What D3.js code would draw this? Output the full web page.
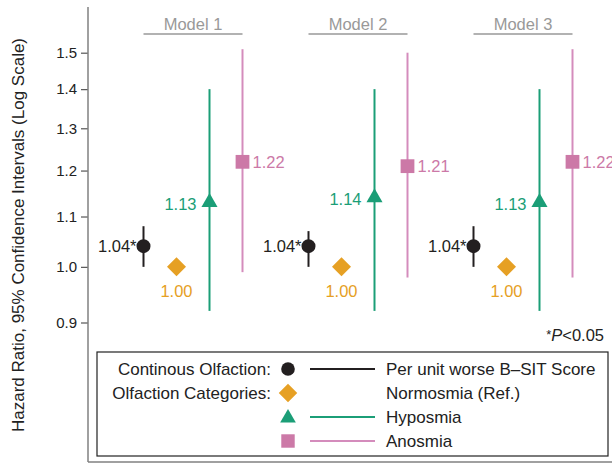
<!DOCTYPE html>
<html>
<head>
<meta charset="utf-8">
<script src="https://cdn.jsdelivr.net/npm/d3@7"></script>
<style>
  body { margin: 0; background: #fff; }
  text { font-family: "Liberation Sans", Arial, Helvetica, sans-serif; }
</style>
</head>
<body>
<script>
var width = 612,
    height = 463;

// data
var models = ["Model 1", "Model 2", "Model 3"];
var seriesNames = ["Per unit worse B\u2013SIT Score", "Normosmia (Ref.)", "Hyposmia", "Anosmia"];
var contHR  = [1.04, 1.04, 1.04], contLo = [1.00, 1.00, 1.00], contHi = [1.08, 1.07, 1.08];
var normHR  = [1.00, 1.00, 1.00];
var hypoHR  = [1.13, 1.14, 1.13], hypoLo = [0.92, 0.92, 0.92], hypoHi = [1.40, 1.40, 1.40];
var anosHR  = [1.22, 1.21, 1.22], anosLo = [0.99, 0.98, 0.98], anosHi = [1.51, 1.50, 1.51];
var yTicks = [0.9, 1.0, 1.1, 1.2, 1.3, 1.4, 1.5];

var colors = ["#231f20", "#e6a024", "#1b9e77", "#cc79a7"];
var lineColors = ["#231f20", "#e6a024", "#1b9e77", "#d48cbc"];

var series = [
  {name: seriesNames[0], hr: contHR, lo: contLo, hi: contHi, sym: d3.symbolCircle, size: 154, rot: 0, star: true},
  {name: seriesNames[1], hr: normHR, lo: null, hi: null, sym: d3.symbolSquare, size: 180, rot: 45},
  {name: seriesNames[2], hr: hypoHR, lo: hypoLo, hi: hypoHi, sym: d3.symbolTriangle, size: 112, rot: 0},
  {name: seriesNames[3], hr: anosHR, lo: anosLo, hi: anosHi, sym: d3.symbolSquare, size: 190, rot: 0}
];

var x = d3.scalePoint().domain(models).range([193, 523]);
var xs = d3.scalePoint().domain(d3.range(4)).range([-49.5, 49.5]);
var y = d3.scaleLog().domain([0.9, 1.5]).range([322.5, 52.7]);

var svg = d3.select("body").append("svg")
    .attr("width", width)
    .attr("height", height);

// axis
var axis = svg.append("g")
    .attr("transform", "translate(88,0)")
    .call(d3.axisLeft(y).tickValues(yTicks).tickFormat(d3.format(".1f")).tickSize(7).tickPadding(4));
axis.select(".domain").remove();
axis.selectAll(".tick line").attr("stroke", "#555").attr("stroke-width", 1.2);
axis.selectAll(".tick text").attr("fill", "#222").style("font-size", "15px")
    .style("font-family", "Liberation Sans, Arial, sans-serif");

svg.append("line").attr("x1", 88).attr("x2", 88).attr("y1", 7).attr("y2", 462)
    .attr("stroke", "#808080").attr("stroke-width", 1.5);
svg.append("line").attr("x1", 88).attr("x2", 612).attr("y1", 462).attr("y2", 462)
    .attr("stroke", "#808080").attr("stroke-width", 1.5);

svg.append("text")
    .attr("transform", "translate(23.5,235) rotate(-90)")
    .attr("text-anchor", "middle")
    .attr("fill", "#222")
    .style("font-size", "17px")
    .text("Hazard Ratio, 95% Confidence Intervals (Log Scale)");

// model headers
var hdr = svg.selectAll(".hdr").data(models).enter().append("g").attr("class", "hdr");
hdr.append("text")
    .attr("x", function(d) { return x(d); })
    .attr("y", 30)
    .attr("text-anchor", "middle")
    .attr("fill", "#999")
    .style("font-size", "16.5px")
    .text(function(d) { return d; });
hdr.append("line")
    .attr("x1", function(d) { return x(d) + xs(0); })
    .attr("x2", function(d) { return x(d) + xs(3); })
    .attr("y1", 34).attr("y2", 34)
    .attr("stroke", "#999").attr("stroke-width", 1.5);

// points
var pts = [];
series.forEach(function(s, si) {
  models.forEach(function(m, mi) {
    pts.push({s: s, si: si, m: m, hr: s.hr[mi],
              lo: s.lo ? s.lo[mi] : null, hi: s.hi ? s.hi[mi] : null});
  });
});

svg.selectAll(".ci").data(pts.filter(function(d) { return d.lo != null; }))
  .enter().append("line")
    .attr("x1", function(d) { return x(d.m) + xs(d.si); })
    .attr("x2", function(d) { return x(d.m) + xs(d.si); })
    .attr("y1", function(d) { return y(d.lo); })
    .attr("y2", function(d) { return y(d.hi); })
    .attr("stroke", function(d) { return lineColors[d.si]; })
    .attr("stroke-width", 2);

svg.selectAll(".pt").data(pts).enter().append("path")
    .attr("d", function(d) { return d3.symbol(d.s.sym, d.s.size)(); })
    .attr("transform", function(d) {
      return "translate(" + (x(d.m) + xs(d.si)) + "," + y(d.hr) + ") rotate(" + d.s.rot + ")";
    })
    .attr("fill", function(d) { return colors[d.si]; });

var fmt = d3.format(".2f");
svg.selectAll(".lab").data(pts).enter().append("text")
    .attr("x", function(d) {
      var cx = x(d.m) + xs(d.si);
      return [cx - 7, cx, cx - 13, cx + 10][d.si];
    })
    .attr("y", function(d) {
      var cy = y(d.hr);
      return [cy + 5.6, cy + 30, cy + 7.5, cy + 6][d.si];
    })
    .attr("text-anchor", function(d) { return ["end", "middle", "end", "start"][d.si]; })
    .attr("fill", function(d) { return colors[d.si]; })
    .style("font-size", "16.5px")
    .text(function(d) { return fmt(d.hr) + (d.s.star ? "*" : ""); });

// significance note
var note = svg.append("text")
    .attr("x", 604).attr("y", 341)
    .attr("text-anchor", "end")
    .attr("fill", "#222")
    .style("font-size", "16.5px");
note.append("tspan").style("font-size", "13px").attr("dy", "-2").text("*");
note.append("tspan").attr("dy", "2").style("font-style", "italic").text("P");
note.append("tspan").text("<0.05");

// legend
var lg = svg.append("g");
lg.append("rect")
    .attr("x", 97).attr("y", 352).attr("width", 511).attr("height", 104)
    .attr("fill", "#fff").attr("stroke", "#222").attr("stroke-width", 1.2);

var rowY = d3.scalePoint().domain(d3.range(4)).range([369, 441]);
var leftLabels = ["Continous Olfaction:", "Olfaction Categories:", "", ""];

var row = lg.selectAll(".row").data(series).enter().append("g")
    .attr("transform", function(d, i) { return "translate(0," + rowY(i) + ")"; });
row.append("text")
    .attr("x", 271).attr("y", 6)
    .attr("text-anchor", "end")
    .attr("fill", "#222")
    .style("font-size", "17px")
    .text(function(d, i) { return leftLabels[i]; });
row.append("path")
    .attr("d", function(d) { return d3.symbol(d.sym, d.size * 0.95)(); })
    .attr("transform", function(d) { return "translate(288," + (d.sym === d3.symbolTriangle ? 1 : 0) + ") rotate(" + d.rot + ")"; })
    .attr("fill", function(d, i) { return colors[i]; });
row.filter(function(d) { return d.lo != null; }).append("line")
    .attr("x1", 310).attr("x2", 375)
    .attr("stroke", function(d) { return lineColors[series.indexOf(d)]; })
    .attr("stroke-width", 1.8);
row.append("text")
    .attr("x", 386).attr("y", 6)
    .attr("fill", "#222")
    .style("font-size", "17px")
    .text(function(d) { return d.name; });
</script>
</body>
</html>
